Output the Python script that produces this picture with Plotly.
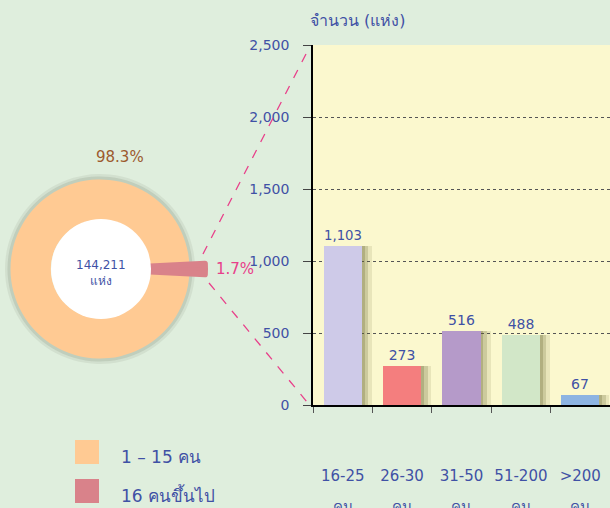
import plotly.graph_objects as go

W, H = 610, 508

# ---------------- data ----------------
categories = ["16-25", "26-30", "31-50", "51-200", ">200"]
category_unit = "คน"
counts = [1103, 273, 516, 488, 67]
bar_colors = ["#CECAE8", "#F47E7E", "#B59AC9", "#D2E7C8", "#8DB4E2"]

share_labels = ["1 – 15 คน", "16 คนขึ้นไป"]
share_pct = [98.3, 1.7]
share_text = ["98.3%", "1.7%"]
share_colors = ["#FFCA93", "#D9828A"]
total_text = "144,211<br>แห่ง"
y_ticks = [0, 500, 1000, 1500, 2000, 2500]
y_title = "จำนวน (แห่ง)"

# ---------------- styling ----------------
FONT = "DejaVu Sans"
BLUE = "#3F51A5"
PINK_TXT = "#E8408A"
BROWN = "#9C5A2E"
PAPER = "#DFEEDD"
PLOT = "#FBF8CE"


def px(x):
    return x / W


def py(y):
    return 1 - y / H


def pie_domain(cx, cy, r):
    return dict(x=[px(cx - r), px(cx + r)], y=[py(cy + r), py(cy - r)])


# rotate so that the small slice points to the right (3 o'clock)
rot = 90 - (share_pct[0] + share_pct[1] / 2) / sum(share_pct) * 360

fig = go.Figure()

# soft glow ring behind donut
for rr, a in [(95, 0.15), (92.5, 0.25)]:
    fig.add_trace(go.Pie(
        values=share_pct, labels=share_labels, sort=False, direction="clockwise",
        rotation=rot, hole=0.6, domain=pie_domain(100, 269, rr),
        marker=dict(colors=[f"rgba(140,150,130,{a})"] * 2),
        textinfo="none", hoverinfo="skip", showlegend=False))

# main donut
fig.add_trace(go.Pie(
    values=share_pct, labels=share_labels, sort=False, direction="clockwise",
    rotation=rot, hole=0.55, domain=pie_domain(100, 269, 89.5),
    marker=dict(colors=share_colors),
    textinfo="none", showlegend=False))

# highlighted (exploded) small slice
fig.add_trace(go.Pie(
    values=share_pct, labels=share_labels, sort=False, direction="clockwise",
    rotation=rot, hole=0.45, domain=pie_domain(105, 269, 100),
    marker=dict(colors=["rgba(0,0,0,0)", share_colors[1]],
                line=dict(color=["rgba(0,0,0,0)", share_colors[1]], width=[0, 6])),
    textinfo="none", hoverinfo="skip", showlegend=False))

# bar shadows
for off, alpha in [(0.17, 0.12), (0.11, 0.2), (0.05, 0.25)]:
    fig.add_trace(go.Bar(
        x=categories, y=counts, width=0.64, offset=-0.32 + off,
        marker=dict(color=f"rgba(95,95,45,{alpha})", line=dict(width=0)),
        hoverinfo="skip", showlegend=False))

# bars
fig.add_trace(go.Bar(
    x=categories, y=counts, width=0.64, offset=-0.32,
    marker=dict(color=bar_colors, line=dict(width=0)),
    text=[f"{v:,}" for v in counts], textposition="outside",
    textfont=dict(family=FONT, size=14, color=BLUE),
    cliponaxis=False, showlegend=False))

fig.update_layout(
    width=W, height=H, autosize=False,
    margin=dict(l=0, r=0, t=0, b=0, autoexpand=False),
    paper_bgcolor=PAPER, plot_bgcolor=PLOT,
    barmode="overlay", bargap=0,
    font=dict(family=FONT, color=BLUE),
    xaxis=dict(
        domain=[px(313), 1], type="category", range=[-0.5, 4.5],
        showline=True, linecolor="#000", linewidth=1.5, automargin=False,
        ticks="outside", tickson="boundaries", ticklen=6, tickcolor="#555",
        tickangle=0,
        tickfont=dict(family=FONT, size=15, color=BLUE),
        ticklabelstandoff=56, showgrid=False, fixedrange=True),
    yaxis=dict(
        domain=[py(405), py(45)], range=[0, 2500], automargin=False,
        tickvals=y_ticks, tickformat=",",
        showgrid=True, gridcolor="#555", griddash="dot", gridwidth=1,
        showline=True, linecolor="#000", linewidth=1.5, zeroline=False,
        ticks="outside", ticklen=8, tickcolor="#444",
        tickfont=dict(family=FONT, size=14, color=BLUE),
        ticklabelstandoff=11, fixedrange=True),
)

shapes = [
    # white centre of the donut
    dict(type="circle", xref="paper", yref="paper",
         x0=px(51), x1=px(151), y0=py(319), y1=py(219),
         fillcolor="#FFFFFF", line=dict(width=0), layer="above"),
    # zoom lines from small slice to bar chart
    dict(type="line", xref="paper", yref="paper",
         x0=px(203), y0=py(254), x1=px(307), y1=py(52),
         line=dict(color=PINK_TXT, width=1.3, dash="dash"), layer="above"),
    dict(type="line", xref="paper", yref="paper",
         x0=px(209), y0=py(283), x1=px(307), y1=py(402),
         line=dict(color=PINK_TXT, width=1.3, dash="dash"), layer="above"),
]
# legend swatches
for i, c in enumerate(share_colors):
    top = 440 + i * 39
    shapes.append(dict(type="rect", xref="paper", yref="paper",
                       x0=px(75), x1=px(99), y0=py(top + 24), y1=py(top),
                       fillcolor=c, line=dict(width=0)))

annotations = [
    dict(text=total_text, x=px(101), y=py(273), xanchor="center", yanchor="middle",
         showarrow=False, font=dict(family=FONT, size=12, color=BLUE)),
    dict(text=share_text[0], x=px(120), y=py(157), xanchor="center", yanchor="middle",
         showarrow=False, font=dict(family=FONT, size=15, color=BROWN)),
    dict(text=share_text[1], x=px(214), y=py(269), xanchor="left", yanchor="middle",
         showarrow=False, font=dict(family=FONT, size=15, color=PINK_TXT)),
    dict(text=y_title, x=px(308), y=py(20), xanchor="left", yanchor="middle",
         showarrow=False, font=dict(family=FONT, size=16, color=BLUE)),
]
for i, lab in enumerate(share_labels):
    annotations.append(dict(text=lab, x=px(119), y=py(457 + i * 38),
                            xanchor="left", yanchor="middle", showarrow=False,
                            font=dict(family=FONT, size=17, color=BLUE)))
for a in annotations:
    a.update(xref="paper", yref="paper")
# second line of each category label ("คน"), partly cut by the bottom edge
for c in categories:
    annotations.append(dict(text=category_unit, x=c, xref="x", y=py(507), yref="paper",
                            xanchor="center", yanchor="middle", showarrow=False,
                            font=dict(family=FONT, size=15, color=BLUE)))

fig.update_layout(shapes=shapes, annotations=annotations)

fig.write_html("out.html", config={"responsive": False, "displayModeBar": False},
               post_script="document.body.style.margin='0';document.body.style.overflow='hidden';")
